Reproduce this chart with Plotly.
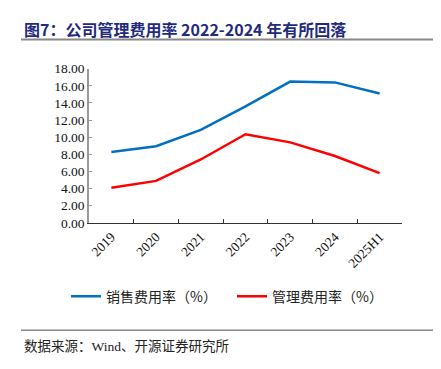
import plotly.graph_objects as go

categories = ["2019", "2020", "2021", "2022", "2023", "2024", "2025H1"]
sales_rate = [8.28, 8.95, 10.85, 13.6, 16.5, 16.4, 15.1]
admin_rate = [4.1, 4.9, 7.4, 10.35, 9.4, 7.8, 5.8]
y_ticks = [0, 2, 4, 6, 8, 10, 12, 14, 16, 18]

W, H = 441, 369
x0, x1 = 89, 402
yt, yb = 64.3, 225

fig = go.Figure()
fig.add_trace(go.Scatter(x=categories, y=sales_rate, mode="lines", name="销售费用率（%）",
                         line=dict(color="#0070C0", width=2.5)))
fig.add_trace(go.Scatter(x=categories, y=admin_rate, mode="lines", name="管理费用率（%）",
                         line=dict(color="#FF0000", width=2.5)))

serif = "Liberation Serif, Times New Roman, serif"
cjk = "Noto Sans CJK SC"

fig.update_layout(
    width=W, height=H,
    margin=dict(l=0, r=0, t=0, b=0),
    paper_bgcolor="white", plot_bgcolor="white",
    showlegend=True,
    legend=dict(orientation="h", x=66 / W, xanchor="left", y=1 - 302 / H, yanchor="middle",
                font=dict(family=cjk, size=14, color="#222"), entrywidth=121,
                itemwidth=30, bgcolor="rgba(0,0,0,0)"),
    xaxis=dict(domain=[x0 / W, x1 / W], type="category", range=[-0.5, 6.5], showgrid=False,
               showline=True, linecolor="#333", linewidth=1,
               ticks="inside", ticklen=4, tickcolor="#333", tickson="boundaries",
               tickangle=-45, tickfont=dict(family=serif, size=13.5, color="#111")),
    yaxis=dict(domain=[1 - yb / H, 1 - yt / H], range=[0, 18], tickvals=y_ticks,
               tickformat=".2f", showgrid=False, zeroline=False,
               showline=True, linecolor="#999", linewidth=1.5,
               ticks="inside", ticklen=3, tickcolor="#999",
               tickfont=dict(family=serif, size=13.5, color="#111")),
)

fig.add_annotation(text="<b>图7：公司管理费用率 2022-2024 年有所回落</b>", xref="paper", yref="paper",
                   x=22 / W, y=1 - 23 / H, xanchor="left", yanchor="middle", showarrow=False,
                   font=dict(family=cjk, size=16, color="#1f2a80"))
fig.add_annotation(text="数据来源：<span style='font-family:Liberation Serif'>Wind</span>、开源证券研究所",
                   xref="paper", yref="paper",
                   x=22 / W, y=1 - 352 / H, xanchor="left", yanchor="middle", showarrow=False,
                   font=dict(family=cjk, size=13.5, color="#222"))
fig.add_shape(type="line", xref="paper", yref="paper", x0=21 / W, x1=433 / W,
              y0=1 - 34 / H, y1=1 - 34 / H, line=dict(color="#888", width=2))
fig.add_shape(type="line", xref="paper", yref="paper", x0=21 / W, x1=433 / W,
              y0=1 - 337 / H, y1=1 - 337 / H, line=dict(color="#888", width=1.5))

fig.write_html("out.html", config={"displayModeBar": False},
               post_script="document.body.style.margin='0';")
